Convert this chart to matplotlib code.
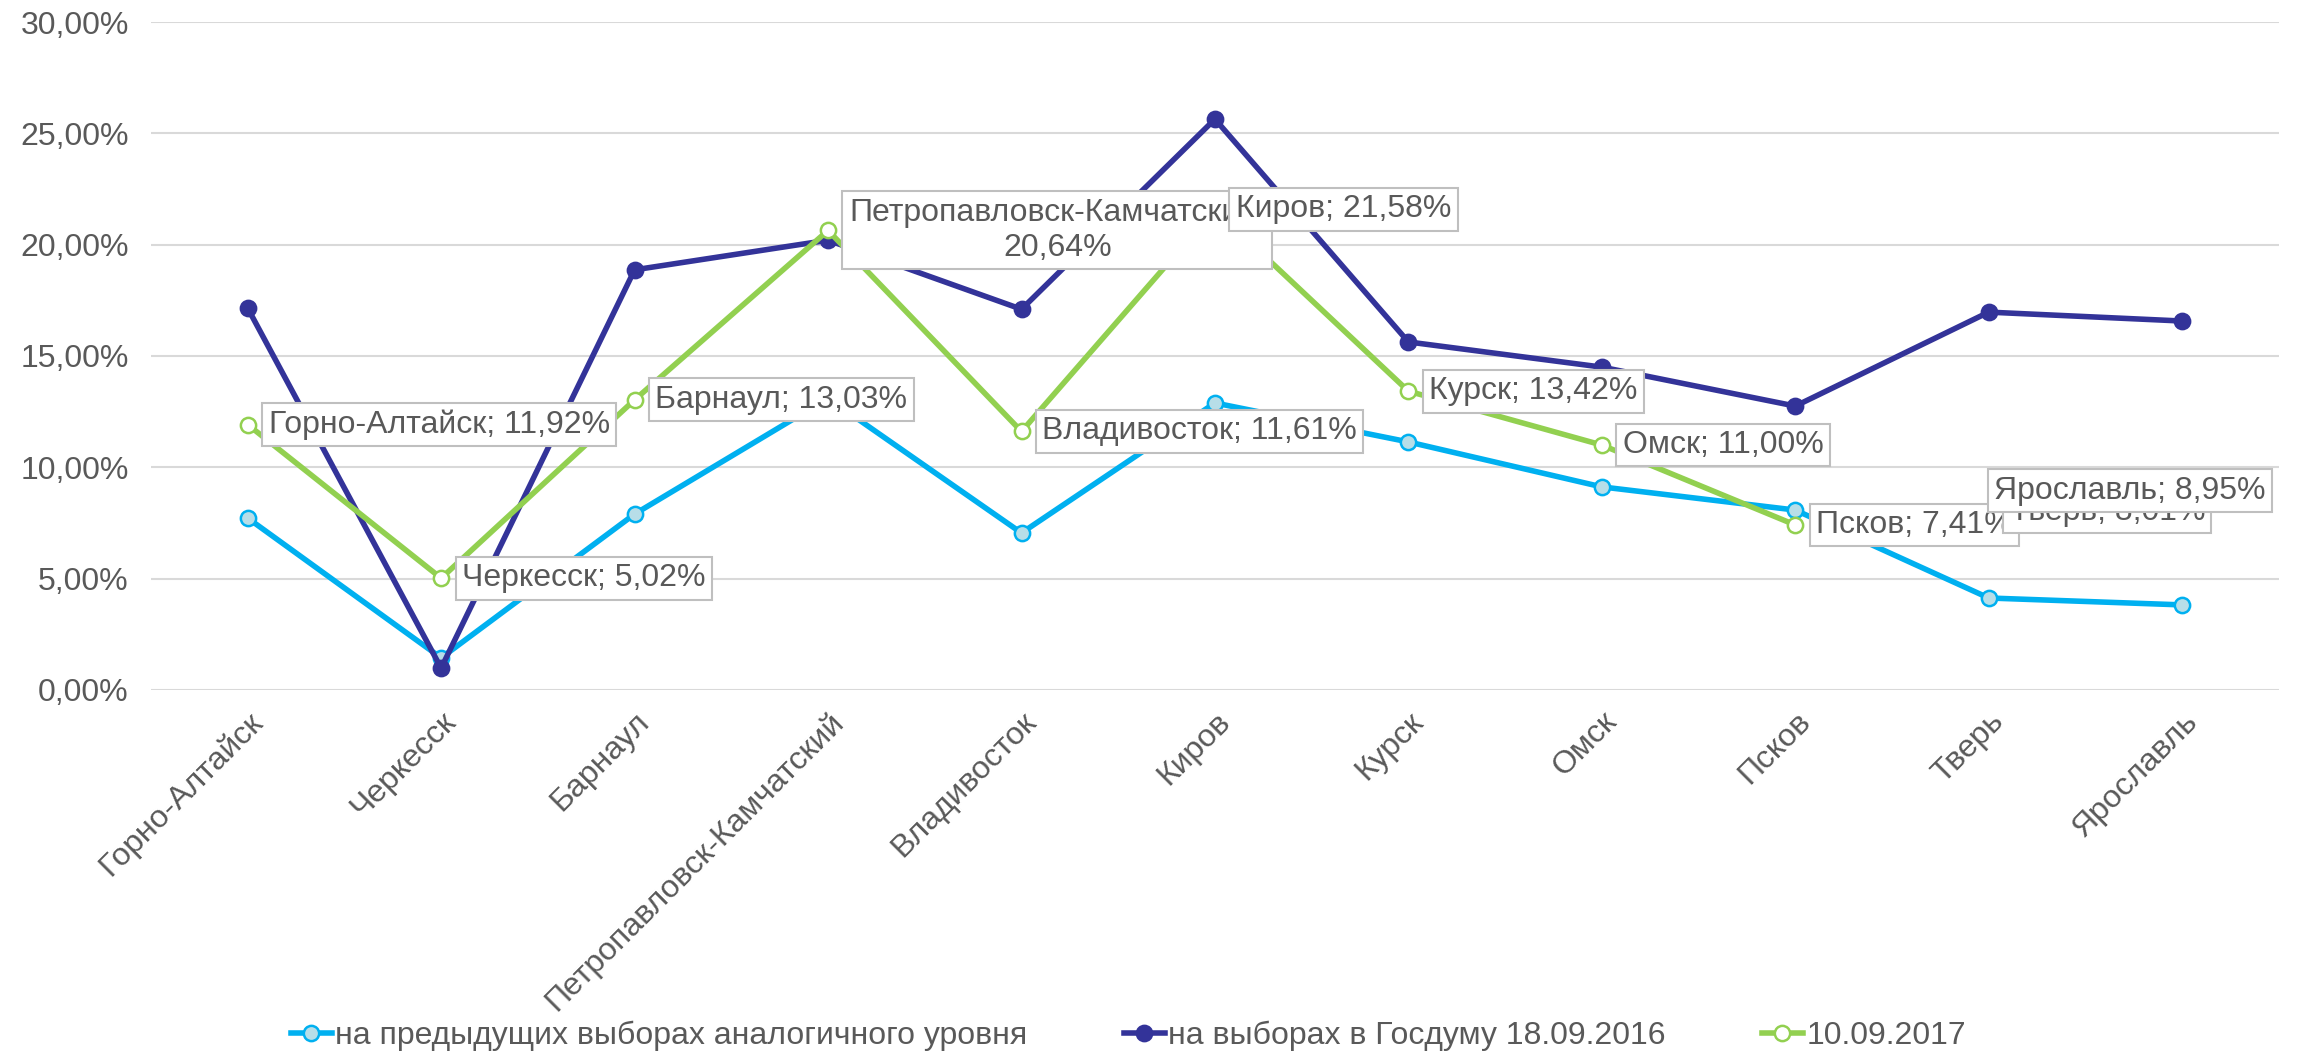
import numpy as np
import matplotlib
matplotlib.use('Agg')
import matplotlib.pyplot as plt

plt.rcParams['font.family'] = ['Liberation Sans', 'DejaVu Sans']

# Города по оси X
cities = ['Горно-Алтайск', 'Черкесск', 'Барнаул', 'Петропавловск-Камчатский',
          'Владивосток', 'Киров', 'Курск', 'Омск', 'Псков', 'Тверь', 'Ярославль']

# Доли (%) по трём выборам
prev_level = [7.72, 1.44, 7.90, 13.10, 7.05, 12.89, 11.14, 9.12, 8.08, 4.13, 3.82]
duma_2016 = [17.15, 0.98, 18.87, 20.20, 17.10, 25.64, 15.63, 14.50, 12.75, 16.97, 16.57]
vote_2017 = [11.92, 5.02, 13.03, 20.64, 11.61, 21.58, 13.42, 11.00, 7.41, 8.01, 8.95]
n_line_2017 = 9  # линия 2017 года нарисована только до Пскова

series_names = ['на предыдущих выборах аналогичного уровня',
                'на выборах в Госдуму 18.09.2016',
                '10.09.2017']

fig = plt.figure(figsize=(22.98, 10.54), dpi=100)
ax = fig.add_axes([0.0657, 0.3454, 0.926, 0.6337])

x = np.arange(len(cities))
ax.plot(x, prev_level, color='#00B0F0', lw=4, marker='o', ms=11,
        mfc='#B7DEE8', mec='#00B0F0', mew=1.8, label=series_names[0], zorder=3)
ax.plot(x, duma_2016, color='#333399', lw=4, marker='o', ms=11,
        mfc='#333399', mec='#333399', mew=1.8, label=series_names[1], zorder=3)
ax.plot(x[:n_line_2017], vote_2017[:n_line_2017], color='#92D050', lw=4,
        marker='o', ms=11, mfc='white', mec='#92D050', mew=1.8,
        label=series_names[2], zorder=3)

ax.set_xlim(-0.5, len(cities) - 0.5)
ax.set_ylim(0, 30)
yticks = np.arange(0, 31, 5)
ax.set_yticks(yticks)
ax.set_yticklabels([('%.2f%%' % v).replace('.', ',') for v in yticks],
                   fontsize=23, color='#595959')
ax.set_xticks(x)
ax.set_xticklabels(cities, rotation=45, ha='right', va='top',
                   rotation_mode='anchor', fontsize=23, color='#595959')
ax.tick_params(axis='both', length=0)
ax.tick_params(axis='y', pad=16)
ax.tick_params(axis='x', pad=12)
ax.grid(axis='y', color='#D9D9D9', lw=1.5)
ax.set_axisbelow(True)
for s in ax.spines.values():
    s.set_visible(False)

# подписи значений для 2017 года
box = dict(boxstyle='square,pad=0.2', fc='white', ec='#BFBFBF', lw=1.5)
for i, (city, v) in enumerate(zip(cities, vote_2017)):
    val = ('%.2f%%' % v).replace('.', ',')
    if city == 'Петропавловск-Камчатский':
        txt = city + ';\n' + val
        ha, dx = 'left', 15
    elif city == 'Ярославль':
        txt = city + '; ' + val
        ha, dx = 'right', 60
    else:
        txt = city + '; ' + val
        ha, dx = 'left', 15
    ax.annotate(txt, (x[i], v), xytext=(dx, 0), textcoords='offset points',
                ha=ha, va='center', multialignment='center', fontsize=23,
                color='#595959', bbox=box, zorder=10 + i)

fig.legend(loc='center', bbox_to_anchor=(0.491, 0.017), ncol=3, frameon=False,
           fontsize=23, handlelength=1.3, handletextpad=0.1, columnspacing=3.0,
           labelcolor='#595959')

fig.savefig('out.png', dpi=100)
